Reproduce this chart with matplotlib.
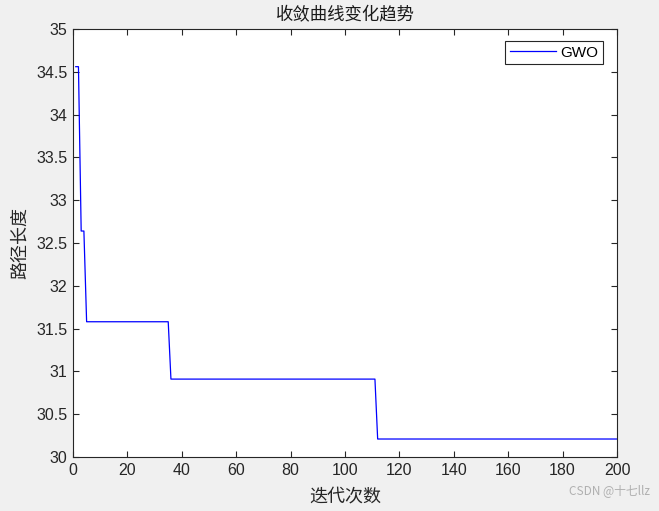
import numpy as np
import matplotlib
matplotlib.use("Agg")
import matplotlib.pyplot as plt

plt.rcParams['font.family'] = ['Liberation Sans', 'Noto Sans CJK SC', 'DejaVu Sans']

# convergence curve (iteration -> best path length)
iters = list(range(1, 201))
step_starts = [1, 3, 5, 36, 112]
step_values = [34.56, 32.64, 31.58, 30.91, 30.21]
best_len = []
for it in iters:
    k = max(i for i, s in enumerate(step_starts) if s <= it)
    best_len.append(step_values[k])

xticks = list(range(0, 201, 20))
yticks = [30, 30.5, 31, 31.5, 32, 32.5, 33, 33.5, 34, 34.5, 35]
ytick_labels = ['30', '30.5', '31', '31.5', '32', '32.5', '33', '33.5', '34', '34.5', '35']

fig = plt.figure(figsize=(6.59, 5.11), dpi=100, facecolor='#f0f0f0')
ax = fig.add_axes([0.1108, 0.1057, 0.8255, 0.8375])
ax.plot(iters, best_len, color='#0000ff', lw=0.9, label='GWO')

ax.set_xlim(0, 200)
ax.set_ylim(30, 35)
ax.set_xticks(xticks)
ax.set_yticks(yticks)
ax.set_yticklabels(ytick_labels)
ax.tick_params(direction='in', top=True, right=True, labelsize=11.5,
               length=4, width=0.8, colors='#262626', pad=4)
for sp in ax.spines.values():
    sp.set_color('#262626')
    sp.set_linewidth(0.8)

cjk = ['Noto Sans CJK SC', 'DejaVu Sans']
ax.set_title('收敛曲线变化趋势', family=cjk, fontsize=12.5, color='#1a1a1a', pad=6)
ax.set_xlabel('迭代次数', family=cjk, fontsize=13, color='#262626', labelpad=7)
ax.set_ylabel('路径长度', family=cjk, fontsize=13, color='#262626', labelpad=5)

leg = ax.legend(loc='upper right', bbox_to_anchor=(0.974, 0.972), fontsize=11,
                fancybox=False, framealpha=1, edgecolor='#262626',
                handlelength=3.0, borderpad=0.3, handletextpad=0.3,
                borderaxespad=0)
leg.get_frame().set_linewidth(0.8)

fig.text(0.987, 0.027, 'CSDN @十七llz', family=cjk, fontsize=8.5,
         color='#b0b0b0', ha='right', va='bottom')

fig.savefig('out.png', dpi=100, facecolor=fig.get_facecolor())
